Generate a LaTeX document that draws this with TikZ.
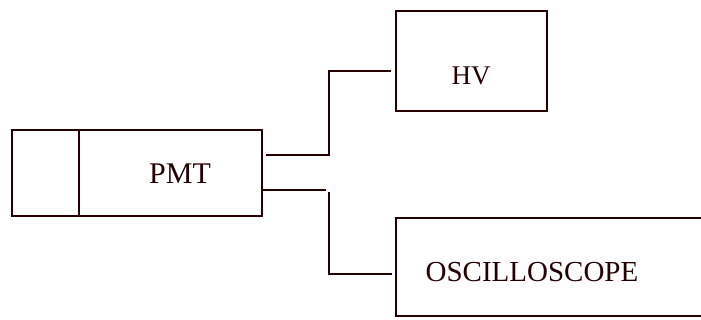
\documentclass[tikz,border=0pt]{standalone}
\usepackage{fontspec}
\setmainfont{Liberation Serif}
\begin{document}
\begin{tikzpicture}[x=1pt,y=-1pt,
  line/.style={line width=1.4pt,draw=black!85!red},
  box/.style={line, rectangle, inner sep=0pt},
  lbl/.style={inner sep=0pt, text=black!85!red}]
\useasboundingbox (0,0) rectangle (701,320);
% PMT
\node[box, minimum width=67pt, minimum height=86pt] (win) at (45.5,173) {};
\node[box, minimum width=183pt, minimum height=86pt] (pmt) at (170.5,173) {};
\node[lbl, font=\fontsize{30}{30}\selectfont] (pmtt) at (180,174) {PMT};
% HV
\node[box, minimum width=151pt, minimum height=100pt] (hv) at (471.5,61) {};
\node[lbl, font=\fontsize{27}{27}\selectfont] (hvt) at (471,76) {HV};
% Oscilloscope (cut by the page edge)
\coordinate (oscTR) at (705,218);
\coordinate (oscTL) at (396,218);
\coordinate (oscBL) at (396,316);
\coordinate (oscBR) at (705,316);
\draw[line] (oscTR) -- (oscTL) -- (oscBL) -- (oscBR);
\node[lbl, font=\fontsize{29}{29}\selectfont] (osct) at (532,272) {OSCILLOSCOPE};
% connectors
\coordinate (a1) at (266,155);
\coordinate (a2) at (329,155);
\coordinate (a3) at (391,71);
\draw[line] (a1) -- (a2) |- (a3);
\coordinate (b1) at (pmt.east |- 0,190);
\coordinate (b2) at (326,190);
\draw[line] (b1) -- (b2);
\coordinate (c1) at (329,192);
\coordinate (c2) at (392,274);
\draw[line] (c1) |- (c2);
\end{tikzpicture}
\end{document}
